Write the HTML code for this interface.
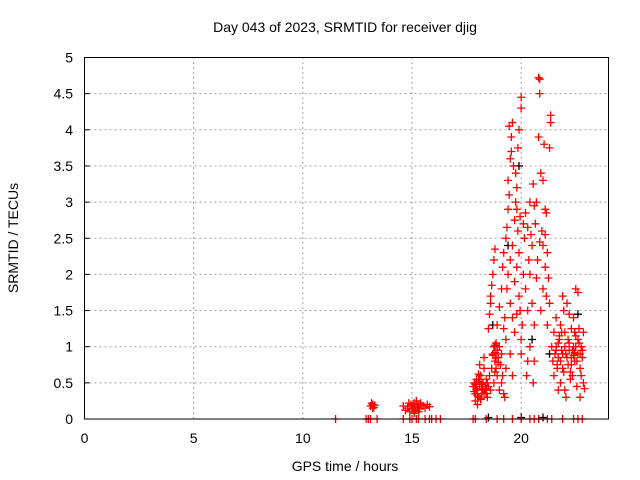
<!DOCTYPE html>
<html><head><meta charset="utf-8"><style>
body{margin:0;background:#fff;}
svg{display:block;font-family:"Liberation Sans",sans-serif;}
</style></head><body>
<svg id="chart" width="640" height="480">
<rect width="640" height="480" fill="#fff"/>
<text x="345" y="32" font-size="14" text-anchor="middle">Day 043 of 2023, SRMTID for receiver djig</text>
<text x="345" y="471" font-size="14" text-anchor="middle">GPS time / hours</text>
<text transform="translate(18,238) rotate(-90)" font-size="14" text-anchor="middle">SRMTID / TECUs</text>
<g id="grid"></g><g id="ticks"></g><g id="marks"></g>
<rect x="84.5" y="57.5" width="524" height="361.5" fill="none" stroke="#000" stroke-width="1"/>
</svg>
<script>
const xTicks=[0,5,10,15,20];
const yTicks=[0,0.5,1,1.5,2,2.5,3,3.5,4,4.5,5];
const yTickLabels=["0","0.5","1","1.5","2","2.5","3","3.5","4","4.5","5"];
const redX=[11.5,12.9,13.0,13.1,13.4,14.6,14.9,15.0,15.2,15.3,15.6,15.8,15.9,16.1,16.3,17.8,17.9,18.4,18.9,19.2,19.6,20.0,20.4,20.6,20.8,21.2,21.4,21.9,22.4,22.6,22.8,
13.1,13.2,13.25,13.3,13.15,13.2,
14.6,14.7,14.8,14.9,14.95,15.0,15.05,15.1,15.15,15.2,15.25,15.3,15.35,15.4,15.5,15.6,15.7,15.8,15.1,15.3,14.85,
17.8,17.85,17.9,17.95,18.0,18.05,18.1,18.15,18.2,18.25,18.3,18.35,18.4,18.45,18.5,18.0,17.9,18.1,18.3,18.55,18.6,18.2,18.4,
18.7,18.75,18.8,18.85,18.9,18.95,19.0,18.8,18.9,19.05,19.1,19.0,19.15,18.65,18.75,19.2,
18.5,18.55,18.6,18.65,18.7,18.75,18.8,18.6,18.9,19.0,19.1,19.15,19.2,19.25,19.3,19.1,19.2,19.3,19.35,19.4,19.45,19.4,19.5,19.55,19.6,19.45,19.55,19.6,19.5,19.4,19.35,19.5,19.6,19.7,19.75,19.7,19.8,19.85,19.8,19.7,19.65,19.75,19.8,19.9,19.9,19.95,20.0,20.0,20.05,20.1,20.1,20.15,20.2,20.2,20.25,20.3,20.3,20.35,20.4,20.4,20.45,20.5,20.5,20.55,20.6,20.6,20.65,20.7,20.75,20.8,20.85,20.8,20.85,20.9,20.95,21.0,21.0,21.05,21.1,21.1,21.15,21.2,21.2,21.25,21.3,21.3,21.35,21.35,21.4,21.45,21.5,21.5,21.55,21.6,21.65,21.7,21.75,21.8,21.8,21.85,21.9,21.95,22.0,22.0,22.05,22.1,22.15,22.2,22.25,22.3,22.3,22.35,22.4,22.4,22.45,22.5,22.55,22.6,22.6,22.65,22.7,22.7,22.75,22.8,22.85,22.9,22.5,21.9,22.2,20.0,20.0,19.9,19.85,20.55,20.6,20.3,20.7,20.9,21.0,21.1,20.4,19.95,20.85,21.15,19.25,19.3,19.5,19.6,19.8,22.05,21.7,22.75,21.6,22.45,
17.85,17.95,18.05,18.15,18.25,18.35,18.45,18.0,18.1,18.2,18.3,17.9,18.05,18.15,18.4,18.8,18.85,18.9,18.95,18.8,18.7,18.85,
21.6,21.7,21.8,21.9,22.0,22.1,22.2,22.3,22.4,22.5,22.6,22.7,22.8,21.65,21.75,21.95,22.15,22.35,22.55,22.65,22.85,22.25,21.85,22.45];
const redY=[0,0,0,0,0,0,0,0,0,0,0,0,0,0,0,0,0,0,0,0,0,0,0,0,0,0,0,0,0,0,0,
0.18,0.2,0.16,0.19,0.22,0.15,
0.18,0.12,0.15,0.1,0.2,0.14,0.18,0.22,0.12,0.25,0.16,0.2,0.14,0.22,0.18,0.15,0.2,0.17,0.08,0.1,0.22,
0.45,0.5,0.35,0.55,0.4,0.3,0.45,0.6,0.35,0.5,0.7,0.4,0.55,0.3,0.45,0.2,0.25,0.75,0.85,0.6,0.4,0.48,0.35,
0.9,1.0,0.8,1.05,0.95,0.85,1.0,0.65,0.6,0.75,0.5,0.4,0.6,0.7,0.5,0.35,
1.25,1.45,1.7,1.85,2.0,2.2,2.35,1.6,1.3,1.55,1.8,2.1,1.25,1.4,1.1,0.9,2.3,2.5,2.65,2.9,3.1,3.3,3.6,3.9,4.1,4.05,3.7,2.4,2.2,2.0,1.8,1.6,1.4,1.2,3.0,2.75,3.2,2.6,2.1,1.9,3.5,3.4,2.9,2.3,1.7,1.5,1.1,0.9,1.3,2.0,2.7,2.5,2.85,1.8,0.6,0.8,1.5,2.2,1.0,3.0,2.55,1.6,2.4,0.5,0.8,1.3,2.7,3.0,2.2,3.9,4.7,4.72,4.5,3.4,2.6,2.4,3.3,3.8,2.9,2.1,1.7,1.3,2.3,1.95,1.6,3.75,4.1,4.2,1.0,0.8,1.2,0.6,0.9,1.4,0.7,0.85,1.1,0.5,1.3,0.95,0.7,1.5,1.2,0.4,0.9,1.6,0.75,1.05,0.55,1.25,0.85,0.6,1.0,1.4,0.8,1.15,0.45,0.9,1.75,1.25,0.3,0.7,1.0,0.95,0.5,0.42,1.8,1.7,1.45,4.45,4.3,4.0,3.75,3.25,2.95,2.65,1.95,1.5,1.8,2.55,2.0,2.8,2.45,2.85,0.3,0.7,0.9,0.6,1.45,0.3,0.4,0.6,1.0,1.2,
0.38,0.42,0.52,0.28,0.4,0.45,0.5,0.32,0.55,0.42,0.36,0.48,0.62,0.27,0.42,0.92,0.85,1.0,0.78,1.02,0.88,0.7,
0.95,1.05,0.8,0.9,1.0,0.85,0.95,0.75,0.88,1.0,1.1,0.9,0.85,0.75,1.15,0.65,1.1,0.95,0.8,1.05,1.2,0.65,1.2,0.92];
const blackX=[18.7,19.4,19.9,20.5,21.3,22.6,20.0,21.0,18.5];
const blackY=[1.3,2.4,3.5,1.1,0.9,1.45,0.02,0.02,0.02];

const NS='http://www.w3.org/2000/svg';
const X0=84.5,X1=608.5,Y0=419,Y1=57.5,XMAX=24,YMAX=5;
function sx(v){return X0+(X1-X0)*v/XMAX;}
function sy(v){return Y0-(Y0-Y1)*v/YMAX;}
function mk(tag,attrs,parent){const e=document.createElementNS(NS,tag);for(const k in attrs)e.setAttribute(k,attrs[k]);parent.appendChild(e);return e;}
const grid=document.getElementById('grid'),ticks=document.getElementById('ticks'),marks=document.getElementById('marks');
xTicks.forEach(t=>{
  const x=sx(t);
  if(t>0){const g=mk('line',{x1:x,x2:x,y1:Y0,y2:Y1,stroke:'#a0a0a0','stroke-dasharray':'2,3'},grid);
  
  }
  const l=mk('text',{x:x,y:443,'font-size':14,'text-anchor':'middle'},ticks);
  l.textContent=String(t);
  
  
});
yTicks.forEach((t,i)=>{
  const y=sy(t);
  if(t>0&&t<YMAX){const g=mk('line',{x1:X0,x2:X1,y1:y,y2:y,stroke:'#a0a0a0','stroke-dasharray':'2,3'},grid);
  
  }
  mk('line',{x1:X0,x2:X0+5,y1:y,y2:y,stroke:'#000'},ticks);
  const l=mk('text',{x:73,y:y+5,'font-size':14,'text-anchor':'end'},ticks);
  l.textContent=yTickLabels[i];
  
  
});
function cross(x,y,color,name){
  const px=sx(x),py=sy(y);
  const p=mk('path',{d:`M${px-4},${py}H${px+4}M${px},${py-4}V${py+4}`,stroke:color,'stroke-width':1.3,fill:'none'},marks);
  
  
}
blackX.forEach((x,i)=>cross(x,blackY[i],'#000','black-point'));
redX.forEach((x,i)=>cross(x,redY[i],'#ff0000','red-point'));
</script>
</body></html>
